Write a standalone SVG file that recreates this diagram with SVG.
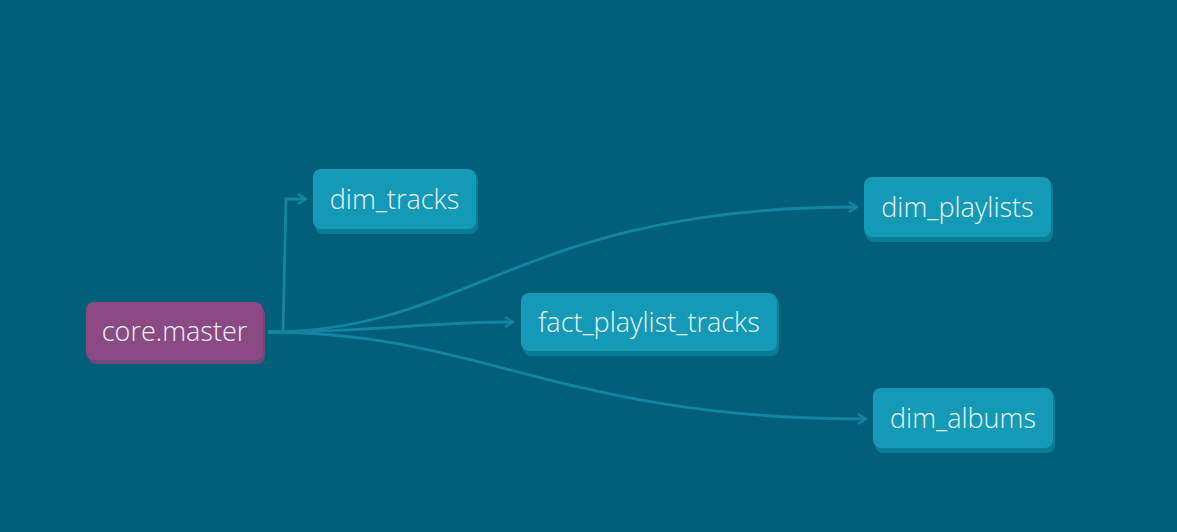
<svg xmlns="http://www.w3.org/2000/svg" width="1177" height="532" viewBox="0 0 1177 532">
<style>
.bg{fill:#015f7b}
.shadow{fill:#0a7d96}
.node{fill:#1499b6}
.src{fill:#8b4a84}
.srcsh{fill:#6e4a7a}
.lbl{font-family:"Open Sans","Noto Sans",sans-serif;font-weight:300;font-size:27px;fill:#eaf6fa;dominant-baseline:central;text-anchor:middle}
.edge{fill:none;stroke:#1385a0;stroke-width:2.8;marker-end:url(#arr)}
</style>
<defs>
<marker id="arr" viewBox="0 0 12 12" refX="10" refY="6" markerWidth="12" markerHeight="12" markerUnits="userSpaceOnUse" orient="auto">
<path d="M2,1 L10,6 L2,11" fill="none" stroke="#1385a0" stroke-width="2.2"/>
</marker>
</defs>
<rect class="bg" x="0" y="0" width="1177" height="532"/>
<g id="connectors">
<path class="edge" d="M268,332 L283,332 L286,199 L306,199"/>
<path class="edge" d="M268,332 C380,332 420,322 513,322"/>
<path class="edge" d="M268,332 C470,332 520,207 857,207"/>
<path class="edge" d="M268,332 C480,332 560,419 866,419"/>
</g>
<g id="core.master">
<rect class="srcsh" x="88" y="306" width="177" height="58" rx="8"/>
<rect class="src" x="86" y="302" width="177" height="58" rx="8"/>
<text class="lbl" x="174.5" y="330">core.master</text>
</g>
<g id="dim_tracks">
<rect class="shadow" x="315" y="172" width="163" height="62" rx="8"/>
<rect class="node" x="313" y="169" width="163" height="60" rx="8"/>
<text class="lbl" x="394.5" y="198">dim_tracks</text>
</g>
<g id="fact_playlist_tracks">
<rect class="shadow" x="523" y="296" width="256" height="60" rx="8"/>
<rect class="node" x="521" y="293" width="256" height="58" rx="8"/>
<text class="lbl" x="649" y="321">fact_playlist_tracks</text>
</g>
<g id="dim_playlists">
<rect class="shadow" x="866" y="180" width="187" height="62" rx="8"/>
<rect class="node" x="864" y="177" width="187" height="60" rx="8"/>
<text class="lbl" x="957.5" y="206">dim_playlists</text>
</g>
<g id="dim_albums">
<rect class="shadow" x="875" y="391" width="180" height="62" rx="8"/>
<rect class="node" x="873" y="388" width="180" height="60" rx="8"/>
<text class="lbl" x="963" y="417">dim_albums</text>
</g>
</svg>
